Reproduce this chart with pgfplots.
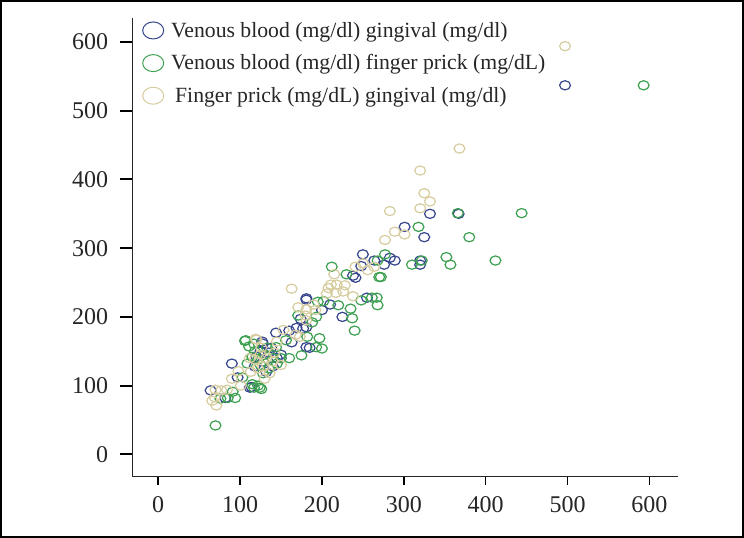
\documentclass[border=0pt]{standalone}
\usepackage{pgfplots}
\pgfplotsset{compat=1.18}
\usepackage{fontspec}
\setmainfont{Liberation Serif}
\definecolor{cblue}{RGB}{55,70,140}
\definecolor{cgreen}{RGB}{60,160,80}
\definecolor{ctan}{RGB}{214,204,158}
\begin{document}
\begin{tikzpicture}[x=1bp,y=1bp]
\useasboundingbox (0,0) rectangle (744,538);
\draw[line width=2bp] (1,1) rectangle (743,537);
\begin{axis}[
  at={(132bp,61bp)}, anchor=south west,
  scale only axis, width=546bp, height=459bp,
  xmin=-32, xmax=635, ymin=-33, ymax=635,
  axis x line=bottom, axis y line=left,
  axis line style={-, line width=1bp, black!85},
  xtick={0,100,...,600}, ytick={0,100,...,600},
  tick align=outside,
  xtick style={line width=1.6bp, black, /pgfplots/major tick length=8bp},
  ytick style={line width=2bp, black, /pgfplots/major tick length=12bp},
  /pgf/number format/assume math mode=true,
  tick label style={font=\fontsize{24bp}{28bp}\selectfont, text=black!85},
  yticklabel style={xshift=-16bp},
  xticklabel style={yshift=-12bp},
  legend style={at={(0,1)}, anchor=north west, xshift=7bp, yshift=0bp,
    draw=none, fill=none, font=\fontsize{21.7bp}{25bp}\selectfont,
    row sep=12bp, legend cell align=left, text=black!85,
    /tikz/every odd column/.append style={column sep=5bp}},
  legend image code/.code={\draw[#1, line width=1bp, fill=none] (0.2cm,0) ellipse [x radius=10.5bp, y radius=8.5bp];},
  every axis plot/.append style={only marks, mark=o, mark size=4.6bp, line width=1.2bp,
     every mark/.append style={xscale=1.18}},
]
\addplot[cblue] coordinates {
(497,537) (367,350) (332,350) (301,331) (325,316) (283,286) (289,282) (276,276)
(250,291) (264,282) (320,282) (320,276) (248,274) (238,260) (241,257) (181,227)
(255,228) (174,197) (144,177) (160,180) (177,183) (181,185) (181,156) (163,163)
(127,164) (185,155) (64,93) (82,82) (90,132) (97,112) (112,97) (114,98)
(128,161) (169,184) (181,225) (120,142) (128,135) (135,148) (140,128) (125,150)
(132,120) (145,140) (150,145) (138,155) (118,128) (210,218) (225,200) (200,210)
};
\addlegendentry{Venous blood (mg/dl) gingival (mg/dl)}
\addplot[cgreen] coordinates {
(593,537) (444,351) (366,351) (380,316) (412,282) (352,287) (357,276) (310,276)
(322,282) (318,331) (272,258) (277,291) (268,282) (212,273) (230,262) (270,258)
(261,228) (267,228) (202,223) (195,222) (171,202) (193,200) (188,192) (182,171)
(156,166) (107,166) (144,156) (111,157) (193,156) (70,42) (91,91) (76,81)
(85,82) (94,82) (103,112) (117,97) (115,102) (109,132) (106,165) (117,161)
(240,180) (237,198) (268,217) (200,154) (175,144) (160,140) (197,169) (220,217)
(248,224) (115,142) (122,138) (130,145) (125,130) (135,125) (140,140) (118,150)
(128,118) (145,132) (133,155) (150,140) (122,100) (126,95) (124,97) (235,212)
};
\addlegendentry{Venous blood (mg/dl) finger prick (mg/dL)}
\addplot[ctan] coordinates {
(497,594) (368,445) (320,413) (325,380) (332,368) (320,358) (283,354) (289,324)
(301,320) (277,312) (241,273) (264,273) (250,278) (256,268) (215,262) (163,241)
(211,247) (218,247) (208,242) (228,246) (206,234) (217,235) (226,237) (238,230)
(190,218) (171,214) (181,211) (180,202) (181,195) (192,210) (153,181) (168,174)
(173,171) (145,164) (120,167) (70,94) (77,93) (84,94) (66,78) (71,71)
(69,83) (98,121) (90,110) (101,100) (113,120) (119,168) (118,138) (125,145)
(132,140) (128,128) (140,135) (136,118) (122,125) (112,140) (130,110) (142,148)
(126,155) (150,130)
};
\addlegendentry{\hspace{4bp}Finger prick (mg/dL) gingival (mg/dl)}
\end{axis}
\end{tikzpicture}
\end{document}
